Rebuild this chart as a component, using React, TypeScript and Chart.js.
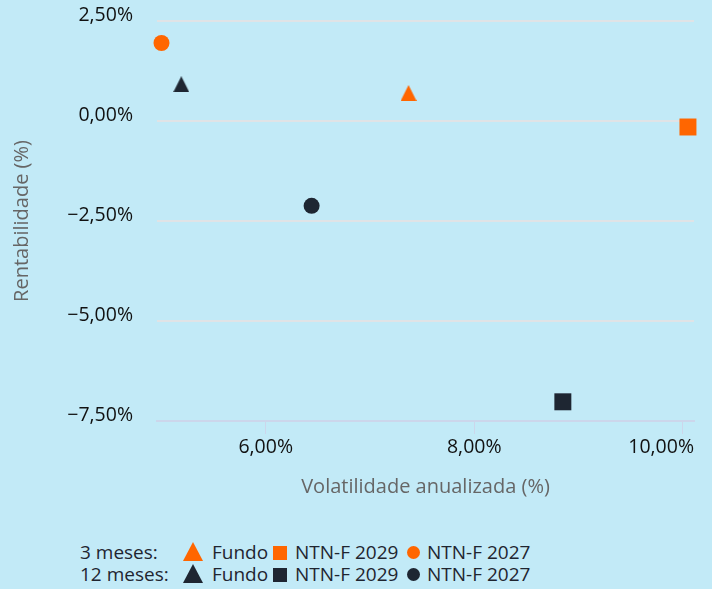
import React, { useEffect, useRef } from "react";
import { Chart, registerables } from "chart.js";

Chart.register(...registerables);

// ---- data ----
const seriesNames = ["Fundo", "NTN-F 2029", "NTN-F 2027"];
const periodLabels = ["3 meses:", "12 meses:"];
const vol3m = [7.37, 10.05, 5.0];
const ret3m = [0.7, -0.15, 1.95];
const vol12m = [5.19, 8.85, 6.44];
const ret12m = [0.92, -7.02, -2.12];
const xTickValues = [6, 8, 10];
const yTickValues = [-7.5, -5, -2.5, 0, 2.5];
const xTitle = "Volatilidade anualizada (%)";
const yTitle = "Rentabilidade (%)";

// ---- style ----
const BG = "#c2eaf7";
const ORANGE = "#ff6600";
const DARK = "#1e2632";
const FONT = "'Open Sans', 'Noto Sans', sans-serif";

function fmtPct(v: number): string {
  const s = Math.abs(v).toFixed(2).replace(".", ",");
  return (v < -1e-9 ? "\u2212" : "") + s + "%";
}

function triangleImage(color: string, size: number): HTMLCanvasElement {
  const c = document.createElement("canvas");
  c.width = size;
  c.height = size;
  const g = c.getContext("2d")!;
  g.fillStyle = color;
  g.beginPath();
  g.moveTo(size / 2, 0);
  g.lineTo(size, size);
  g.lineTo(0, size);
  g.closePath();
  g.fill();
  return c;
}

const xLabelPlugin = {
  id: "xLabels",
  afterDraw(chart: any) {
    const sc = chart.scales.x;
    const ctx = chart.ctx;
    const area = chart.chartArea;
    ctx.save();
    ctx.font = `19.5px ${FONT}`;
    ctx.fillStyle = "#111111";
    ctx.textBaseline = "alphabetic";
    ctx.textAlign = "left";
    for (const t of sc.ticks) {
      const label = fmtPct(t.value);
      const w = ctx.measureText(label).width;
      let x = sc.getPixelForValue(t.value) - w / 2;
      if (x + w > area.right) x = area.right - w;
      ctx.fillText(label, x, area.bottom + 32);
    }
    ctx.restore();
  },
};

function LegendRow({ top, color, label }: { top: number; color: string; label: string }) {
  const text: React.CSSProperties = {
    position: "absolute",
    top: 0,
    fontFamily: FONT,
    fontSize: 19,
    lineHeight: "24px",
    color: "#1f2530",
    whiteSpace: "nowrap",
  };
  return (
    <div style={{ position: "absolute", left: 0, top, width: 712, height: 24 }}>
      <span style={{ ...text, left: 80 }}>{label}</span>
      <svg style={{ position: "absolute", left: 183, top: 2 }} width={20} height={19}>
        <polygon points="10,0 20,19 0,19" fill={color} />
      </svg>
      <span style={{ ...text, left: 212 }}>{seriesNames[0]}</span>
      <svg style={{ position: "absolute", left: 273, top: 6 }} width={14} height={14}>
        <rect x={0} y={0} width={14} height={14} fill={color} />
      </svg>
      <span style={{ ...text, left: 295 }}>{seriesNames[1]}</span>
      <svg style={{ position: "absolute", left: 407, top: 6 }} width={13} height={13}>
        <circle cx={6.5} cy={6.5} r={6.5} fill={color} />
      </svg>
      <span style={{ ...text, left: 427 }}>{seriesNames[2]}</span>
    </div>
  );
}

export default function App() {
  const ref = useRef<HTMLCanvasElement | null>(null);

  useEffect(() => {
    if (!ref.current) return;
    const triO = triangleImage(ORANGE, 16);
    const triD = triangleImage(DARK, 16);
    const styles: any[] = [triO, "rect", "circle"];
    const radii = [8, 12, 8];

    const datasets: any[] = [];
    seriesNames.forEach((name, i) => {
      datasets.push({
        label: `3 meses ${name}`,
        data: [{ x: vol3m[i], y: ret3m[i] }],
        pointStyle: styles[i],
        pointRadius: radii[i],
        backgroundColor: ORANGE,
        borderColor: ORANGE,
        borderWidth: 0,
        clip: false,
      });
    });
    seriesNames.forEach((name, i) => {
      datasets.push({
        label: `12 meses ${name}`,
        data: [{ x: vol12m[i], y: ret12m[i] }],
        pointStyle: i === 0 ? triD : styles[i],
        pointRadius: radii[i],
        backgroundColor: DARK,
        borderColor: DARK,
        borderWidth: 0,
        clip: false,
      });
    });

    const chart = new Chart(ref.current, {
      type: "scatter",
      data: { datasets },
      plugins: [xLabelPlugin],
      options: {
        responsive: false,
        animation: false,
        events: [],
        layout: { padding: { left: 0, right: 18, top: 21, bottom: 0 } },
        plugins: { legend: { display: false }, tooltip: { enabled: false } },
        scales: {
          x: {
            type: "linear",
            min: 4.957,
            max: 10.108,
            afterBuildTicks: (s: any) => {
              s.ticks = xTickValues.map((v) => ({ value: v }));
            },
            afterFit: (s: any) => {
              s.height = 89;
              s.paddingLeft = 0;
              s.paddingRight = 0;
            },
            ticks: { display: false },
            grid: {
              display: true,
              drawOnChartArea: false,
              drawTicks: true,
              tickLength: 13,
              tickColor: "#ccd6eb",
              tickWidth: 1,
            },
            border: { display: true, color: "#ccd6eb", width: 2 },
            title: {
              display: true,
              text: xTitle,
              color: "#666666",
              font: { family: FONT, size: 20 },
              padding: { top: 0, bottom: 11 },
            },
          },
          y: {
            type: "linear",
            min: -7.5,
            max: 2.5,
            afterBuildTicks: (s: any) => {
              s.ticks = yTickValues.map((v) => ({ value: v }));
            },
            afterFit: (s: any) => {
              s.width = 157;
              s.paddingTop = 0;
              s.paddingBottom = 0;
            },
            ticks: {
              callback: (v: any) => fmtPct(Number(v)),
              color: "#111111",
              font: { family: FONT, size: 19.5 },
              padding: 24,
              labelOffset: -5.5,
            },
            grid: {
              display: true,
              drawTicks: false,
              color: "#e0e3e6",
              lineWidth: 2,
            },
            border: { display: false },
            title: {
              display: true,
              text: yTitle,
              color: "#666666",
              font: { family: FONT, size: 20 },
              padding: { top: 10, bottom: 0 },
            },
          },
        },
      } as any,
    });
    return () => chart.destroy();
  }, []);

  return (
    <div
      style={{
        position: "absolute",
        left: 0,
        top: 0,
        width: 712,
        height: 589,
        background: BG,
        overflow: "hidden",
      }}
    >
      <canvas ref={ref} width={712} height={510} style={{ display: "block" }} />
      <LegendRow top={540} color={ORANGE} label={periodLabels[0]} />
      <LegendRow top={562} color={DARK} label={periodLabels[1]} />
    </div>
  );
}
